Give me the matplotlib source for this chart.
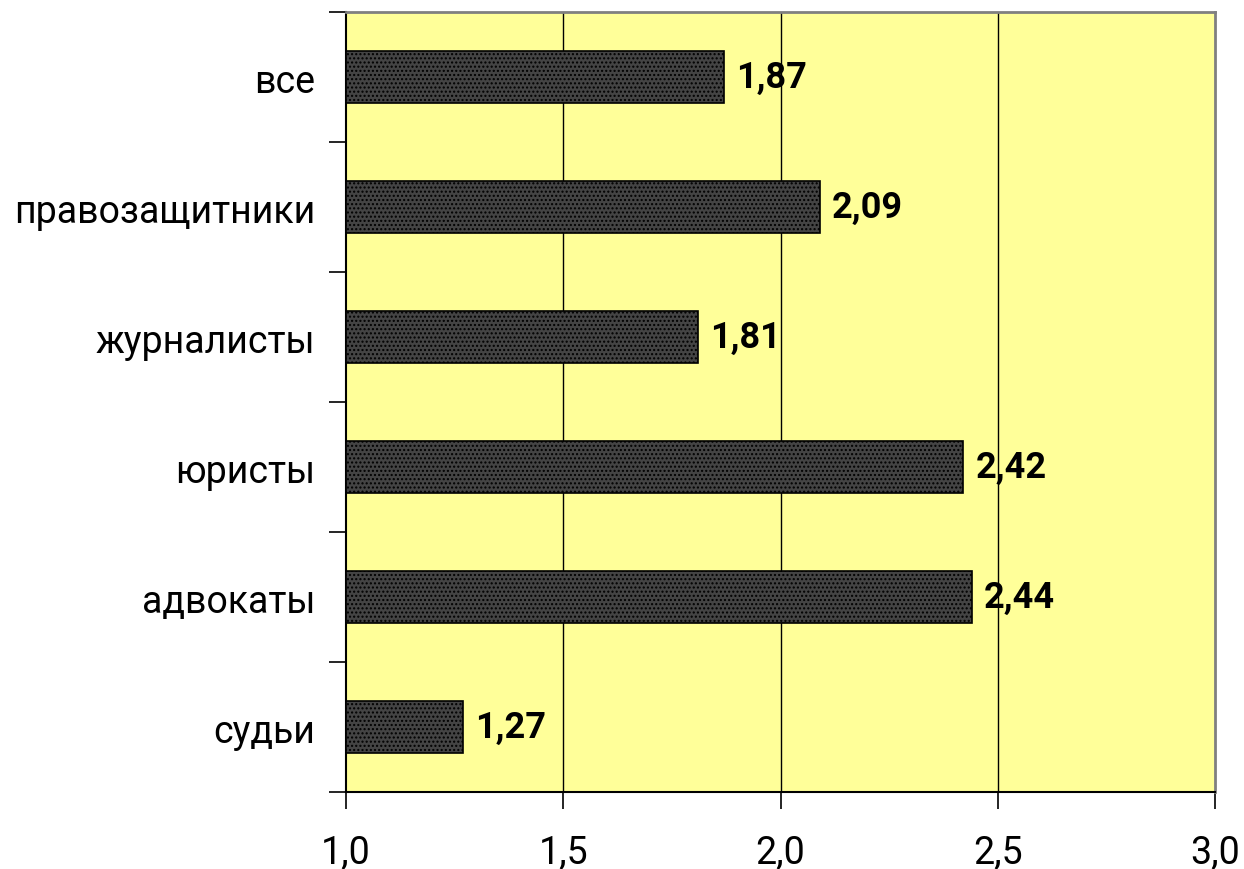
import matplotlib.pyplot as plt
import numpy as np

plt.rcParams['font.family'] = ['Roboto', 'DejaVu Sans']
plt.rcParams['hatch.color'] = '#8a8a8a'

groups = ['все', 'правозащитники', 'журналисты', 'юристы', 'адвокаты', 'судьи']
scores = [1.87, 2.09, 1.81, 2.42, 2.44, 1.27]
xticks = [1.0, 1.5, 2.0, 2.5, 3.0]

fig = plt.figure(figsize=(12.44, 8.70), dpi=100)
ax = fig.add_axes([0.278, 0.0885, 0.699, 0.8965])
ax.set_facecolor('#ffff99')

y = np.arange(len(groups))[::-1]
ax.barh(y, np.array(scores) - 1.0, left=1.0, height=0.4,
        color='#444444', edgecolor='black', linewidth=1.2,
        hatch='....', zorder=3)

for yi, v in zip(y, scores):
    ax.text(v + 0.028, yi, f'{v:.2f}'.replace('.', ','), va='center', ha='left',
            fontsize=26, fontweight='bold', zorder=4)

ax.set_xlim(1.0, 3.0)
ax.set_ylim(-0.5, len(groups) - 0.5)
ax.set_xticks(xticks)
ax.set_xticklabels([f'{t:.1f}'.replace('.', ',') for t in xticks], fontsize=27)
ax.set_yticks(y)
ax.set_yticklabels(groups, fontsize=27)
ax.tick_params(axis='y', length=0, pad=22)
ax.set_yticks(np.arange(len(groups) + 1) - 0.5, minor=True)
ax.tick_params(axis='y', which='minor', length=12, width=1.2, direction='out')
ax.tick_params(axis='x', length=12, width=1.2, direction='out', pad=18)

for t in xticks[1:-1]:
    ax.axvline(t, color='black', linewidth=1, zorder=1)

ax.spines['left'].set_linewidth(1.5)
ax.spines['bottom'].set_linewidth(1.5)
ax.spines['top'].set_color('#808080')
ax.spines['right'].set_color('#808080')
ax.spines['top'].set_linewidth(2)
ax.spines['right'].set_linewidth(2)

fig.savefig('out.png', dpi=100)
